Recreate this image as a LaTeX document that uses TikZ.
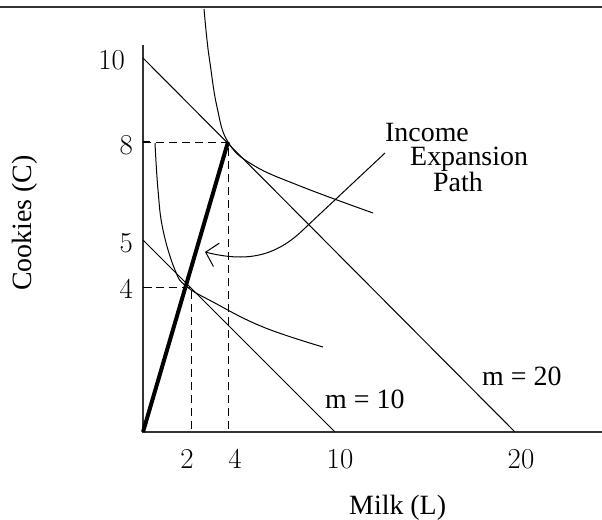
\documentclass[tikz,border=0pt]{standalone}
\usepackage{fontspec}
\usetikzlibrary{arrows.meta}
\newfontfamily\tms{Liberation Serif}
\tikzset{
	numlab/.style={font=\fontsize{29}{34}\selectfont, inner sep=0pt},
	txtlab/.style={font=\tms\fontsize{28}{32}\selectfont, inner sep=0pt},
	guide/.style={dash pattern=on 8bp off 5bp, line width=0.9bp},
	thinline/.style={line width=1bp},
	axisline/.style={line width=1.4bp, black!80},
}

\begin{document}
\begin{tikzpicture}[x=1bp, y=-1bp, >=stealth]
		\useasboundingbox (0,0) rectangle (602,520);
		\coordinate (RL) at (0,7);
		\coordinate (RR) at (602,7);
		\coordinate (O) at (143,432);
		\coordinate (Ctop) at (143,45);
		\coordinate (Lend) at (602,432);
		\coordinate (A10) at (143,240);
		\coordinate (B10) at (335,432);
		\coordinate (A20) at (143,58);
		\coordinate (B20) at (515,432);
		\coordinate (C8) at (143,142);
		\coordinate (C4) at (143,287);
		\coordinate (E2) at (228,142);
		\coordinate (L4) at (228,432);
		\coordinate (L2) at (191,432);
		\coordinate (ArrS) at (385,153);
		\coordinate (ArrM) at (305,228);
		\coordinate (ArrE) at (205,252);
		\draw[axisline] (RL) -- (RR);
		\draw[axisline] (Ctop) -- (O) -- (Lend);
		\draw[thinline] (C8) -- ++(7,0);
		\draw[thinline] (C4) -- ++(9,0);
		\draw[thinline] (A10) -- (B10);
		\draw[thinline] (A20) -- (B20);
		\draw[guide] (C4) -- (C4 -| L2) -- (L2);
		\draw[guide] (C8) -- (E2) -- (L4);
		\draw[line width=4bp] (O) -- (E2);
		\draw[thinline] plot[smooth, tension=0.7] coordinates {(204,9) (207,40) (210,63) (217,107) (228,142) (253,165) (300,186) (373,213)};
		\draw[thinline] plot[smooth, tension=0.7] coordinates {(155,143) (158,190) (163,230) (175,270) (186,286) (213,302) (263,327) (323,347)};
		\draw[thinline, -{Straight Barb[length=11bp, width=24bp]}] (ArrS) -- (ArrM) .. controls (275,258) and (245,262) .. (ArrE);
		\node[numlab, anchor=base east] (c10) at (125,70) {10};
		\node[numlab, anchor=base east] (c8) at (133,155) {8};
		\node[numlab, anchor=base east] (c5) at (133,252) {5};
		\node[numlab, anchor=base east] (c4) at (133,298) {4};
		\node[numlab, anchor=base] (l2) at (187,468) {2};
		\node[numlab, anchor=base] (l4) at (235,468) {4};
		\node[numlab, anchor=base] (l10) at (340,468) {10};
		\node[numlab, anchor=base] (l20) at (521,468) {20};
		\node[txtlab, anchor=base west] (inc) at (385,142) {Income};
		\node[txtlab, anchor=base west] (expn) at (410,166) {Expansion};
		\node[txtlab, anchor=base west] (pth) at (433,192) {Path};
		\node[txtlab, anchor=base west] (m10) at (325,408) {m = 10};
		\node[txtlab, anchor=base west] (m20) at (482,385) {m = 20};
		\node[txtlab, anchor=base west] (milk) at (349,514) {Milk (L)};
		\node[txtlab, rotate=90] (cook) at (25,223) {Cookies (C)};
	\end{tikzpicture}
\end{document}
